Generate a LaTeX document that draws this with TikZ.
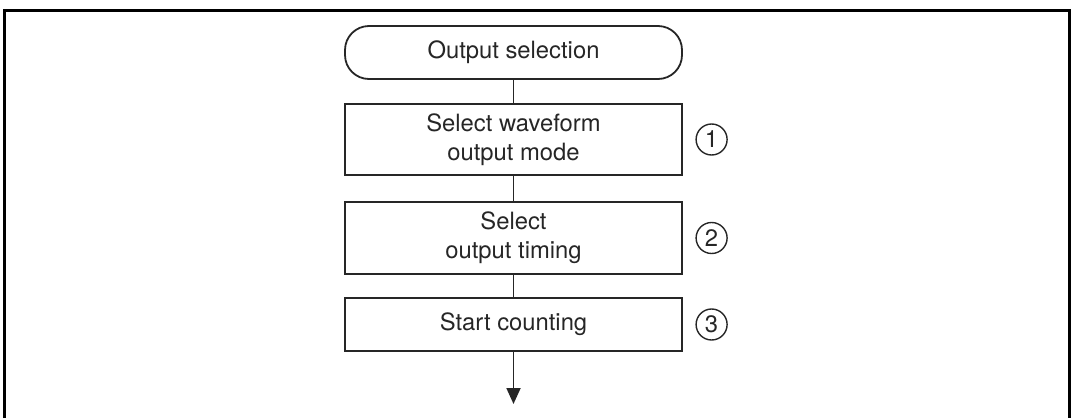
\documentclass[tikz,border=0pt]{standalone}
\usepackage{fontspec}
\setmainfont{TeX Gyre Heros}
\usepackage{tikz}
\usetikzlibrary{arrows.meta,positioning}
\tikzset{
  blk/.style   ={draw=black!85,line width=0.9pt,align=center,inner sep=0pt,
                 minimum width=168.5pt,text=black!85},
  term/.style  ={blk,rounded corners=12pt,minimum height=26.5pt},
  proc/.style  ={blk},
  num/.style   ={circle,draw=black!85,line width=0.7pt,minimum size=15.5pt,
                 inner sep=0pt,text=black!85},
  link/.style  ={draw=black!85,line width=0.9pt},
  flow/.style  ={link,-{Triangle[width=7pt,length=8pt]}},
}

\begin{document}
\begin{tikzpicture}[x=0.5pt,y=-0.5pt,font=\fontsize{11.9}{14.5}\selectfont]
  \useasboundingbox (0,0) rectangle (1071,418);
  % open frame
  \draw[line width=1.5pt] (4.5,418) -- (4.5,10) -- (1069.5,10) -- (1069.5,418);

  \node[term] (start) at (513.5,52.5) {Output selection};
  \node[proc,minimum height=35.5pt] (mode) at (513.5,139.5) {Select waveform\\output mode};
  \node[proc,minimum height=36pt] (timing) at (513.5,238) {Select\\output timing};
  \node[proc,minimum height=26.5pt] (count) at (513.5,324.5) {Start counting};
  \coordinate (next) at (513.5,404);

  \node[num,right=6.25pt of mode] (n1) {1};
  \node[num,right=6.25pt of timing] (n2) {2};
  \node[num,right=6.25pt of count] (n3) {3};

  \draw[link] (start) -- (mode);
  \draw[link] (mode) -- (timing);
  \draw[link] (timing) -- (count);
  \draw[flow] (count) -- (next);
\end{tikzpicture}
\end{document}
